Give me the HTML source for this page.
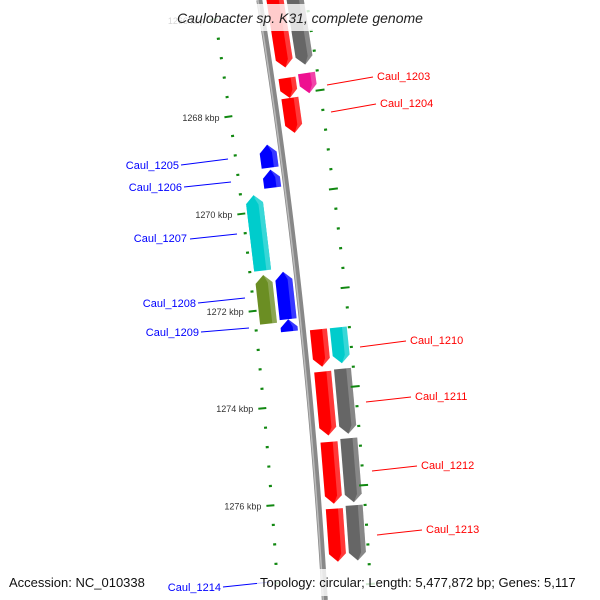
<!DOCTYPE html>
<html><head><meta charset="utf-8"><style>
html,body{margin:0;background:#fff;width:600px;height:600px;overflow:hidden}
svg{display:block;font-family:"Liberation Sans",sans-serif;overflow:hidden}
</style></head><body>
<svg id="map" width="600" height="600" viewBox="0 0 600 600" xmlns="http://www.w3.org/2000/svg">
<g id="tracks"></g>
<g id="labels"></g>
<rect x="160" y="4" width="280" height="27" fill="#fff" fill-opacity="0.8"/>
<text x="300" y="23" text-anchor="middle" font-size="14" font-style="italic" fill="#222">Caulobacter sp. K31, complete genome</text>
<rect x="4" y="569" width="146" height="27" fill="#fff" fill-opacity="0.8"/>
<rect x="257" y="569" width="338" height="27" fill="#fff" fill-opacity="0.8"/>
<text x="9" y="587" font-size="13" fill="#111">Accession: NC_010338</text>
<text x="260" y="587" font-size="13" fill="#111">Topology: circular; Length: 5,477,872 bp; Genes: 5,117</text>
</svg>
<script>
const geneNames = ["g_a","g_b","Caul_1203","Caul_1204","g_c","Caul_1210","Caul_1211","Caul_1212","Caul_1213","Caul_1205","Caul_1206","Caul_1207","Caul_1208","Caul_1209","Caul_1214","g_d"];
const geneStart = [1265.76,1265.76,1267.35,1267.80,1267.39,1272.51,1273.37,1274.80,1276.16,1268.67,1269.18,1269.65,1271.27,1272.24,1278.27,1278.27];
const geneEnd   = [1267.18,1267.18,1267.76,1268.51,1267.80,1273.27,1274.67,1276.06,1277.24,1269.14,1269.55,1271.18,1272.24,1272.49,1278.74,1278.74];
const geneTrack = [1,2,2,1,1,1,1,1,1,-1,-1,-2,-1,-1,-1,-2];
const geneColor = ["#ff0000","#666666","#ee1090","#ff0000","#ff0000","#ff0000","#ff0000","#ff0000","#ff0000","#0000ff","#0000ff","#00cccc","#0000ff","#0000ff","#0000ff","#6b8e23"];
const extraStart=[1272.51,1273.35,1274.76,1276.12,1269.69,1271.29];
const extraEnd  =[1273.24,1274.67,1276.06,1277.24,1271.20,1272.29];
const extraTrack=[2,2,2,2,-2,-2];
const extraColor=["#00cccc","#666666","#666666","#666666","#00cccc","#6b8e23"];
const leftTickStart=1266.0, tickStep=0.4, majorEvery=5;
const rightTickStart=1265.73;
const majorLabels=["1266 kbp","1268 kbp","1270 kbp","1272 kbp","1274 kbp","1276 kbp","1278 kbp"];

const NS="http://www.w3.org/2000/svg";
const CX=-5665, CY=950, R=6000;
function kToY(k){return 110+(k-1268)*49;}
function pt(y,off){const s=Math.max(-1,Math.min(1,(y-CY)/R));const t=Math.asin(s);return [CX+(R+off)*Math.cos(t),CY+(R+off)*Math.sin(t)];}
const tracks=document.getElementById('tracks');
function mk(tag,attrs,parent){const e=document.createElementNS(NS,tag);for(const k in attrs)e.setAttribute(k,attrs[k]);(parent||tracks).appendChild(e);return e;}

let d="";for(let y=0;y<=600;y+=10){const p=pt(y,0);d+=(y===0?"M":"L")+p[0].toFixed(2)+","+p[1].toFixed(2);}
let bb=mk('path',{d:d,stroke:'#888',"stroke-width":6,fill:'none'});


let bb2=mk('path',{d:d,stroke:'#bbb',"stroke-width":1.5,fill:'none',transform:'translate(-1.5,0)'});



const trackOff={1:[7,24],2:[27,44],"-1":[-22,-5],"-2":[-42,-25]};
function gene(k1,k2,tr,col,name){
  const [o1,o2]=trackOff[tr];const y1=kToY(k1),y2=Math.min(kToY(k2),600);const om=(o1+o2)/2;const h=8;
  let pts;
  if(tr>0){pts=[pt(y1,o1),pt(y1,o2),pt(y2-h,o2),pt(y2,om),pt(y2-h,o1)];}
  else{pts=[pt(y2,o1),pt(y2,o2),pt(y1+h,o2),pt(y1,om),pt(y1+h,o1)];}
  const p=mk('polygon',{points:pts.map(q=>q[0].toFixed(1)+","+q[1].toFixed(1)).join(" "),fill:col});
  
  
  const ow=o1+(o2-o1)*0.72;
  let hp;
  if(tr>0){hp=[pt(y1,ow),pt(y1,o2),pt(y2-h,o2),pt(y2,om),pt(y2-h,ow)];}
  else{hp=[pt(y2,ow),pt(y2,o2),pt(y1+h,o2),pt(y1,om),pt(y1+h,ow)];}
  const s=mk('polygon',{points:hp.map(q=>q[0].toFixed(1)+","+q[1].toFixed(1)).join(" "),fill:'#fff','fill-opacity':0.22});
  
  
}
for(let i=0;i<geneStart.length;i++)gene(geneStart[i],geneEnd[i],geneTrack[i],geneColor[i],geneNames[i]);
for(let i=0;i<extraStart.length;i++)gene(extraStart[i],extraEnd[i],extraTrack[i],extraColor[i],'extra-'+i);

function ticks(start,side){
  for(let i=0;;i++){const k=start+i*tickStep;const y=kToY(k);if(y>598)break;
    const major=(i%majorEvery===0);
    const a=major?(side<0?-52:42):(side<0?-48:45), b=major?(side<0?-44:51):(side<0?-45:48);
    const p1=pt(y,a),p2=pt(y,b);
    const l=mk('line',{x1:p1[0],y1:p1[1],x2:p2[0],y2:p2[1],stroke:'#118811','stroke-width':major?2:2.2});
    
    
    if(major&&side<0){const lp=pt(y,-57);const t=mk('text',{x:lp[0],y:lp[1]+3,'text-anchor':'end','font-size':9,fill:'#333'});
      t.textContent=majorLabels[Math.round((k-1266)/2)];
      
      }
  }
}
ticks(leftTickStart,-1);
ticks(rightTickStart,1);

const lab=[["Caul_1203",377,80,327,85,373,77,"#ff0000","start"],["Caul_1204",380,107,331,112,376,104,"#ff0000","start"],
["Caul_1210",410,344,360,347,406,341,"#ff0000","start"],["Caul_1211",415,400,366,402,411,397,"#ff0000","start"],
["Caul_1212",421,469,372,471,417,466,"#ff0000","start"],["Caul_1213",426,533,377,535,422,530,"#ff0000","start"],
["Caul_1205",179,169,181,165,228,159,"#0000ff","end"],["Caul_1206",182,191,184,187,231,182,"#0000ff","end"],
["Caul_1207",187,242,190,239,237,234,"#0000ff","end"],["Caul_1208",196,307,198,303,245,298,"#0000ff","end"],
["Caul_1209",199,336,201,332,249,328,"#0000ff","end"],["Caul_1214",221,591,223,587,270,582,"#0000ff","end"]];
const lg=document.getElementById('labels');
lab.forEach(L=>{
  const ln=mk('line',{x1:L[3],y1:L[4],x2:L[5],y2:L[6],stroke:L[7],'stroke-width':1},lg);
  
  
  const t=mk('text',{x:L[1],y:L[2],'text-anchor':L[8],'font-size':11,fill:L[7]},lg);
  t.textContent=L[0];
  
  
});
</script>
</body></html>
